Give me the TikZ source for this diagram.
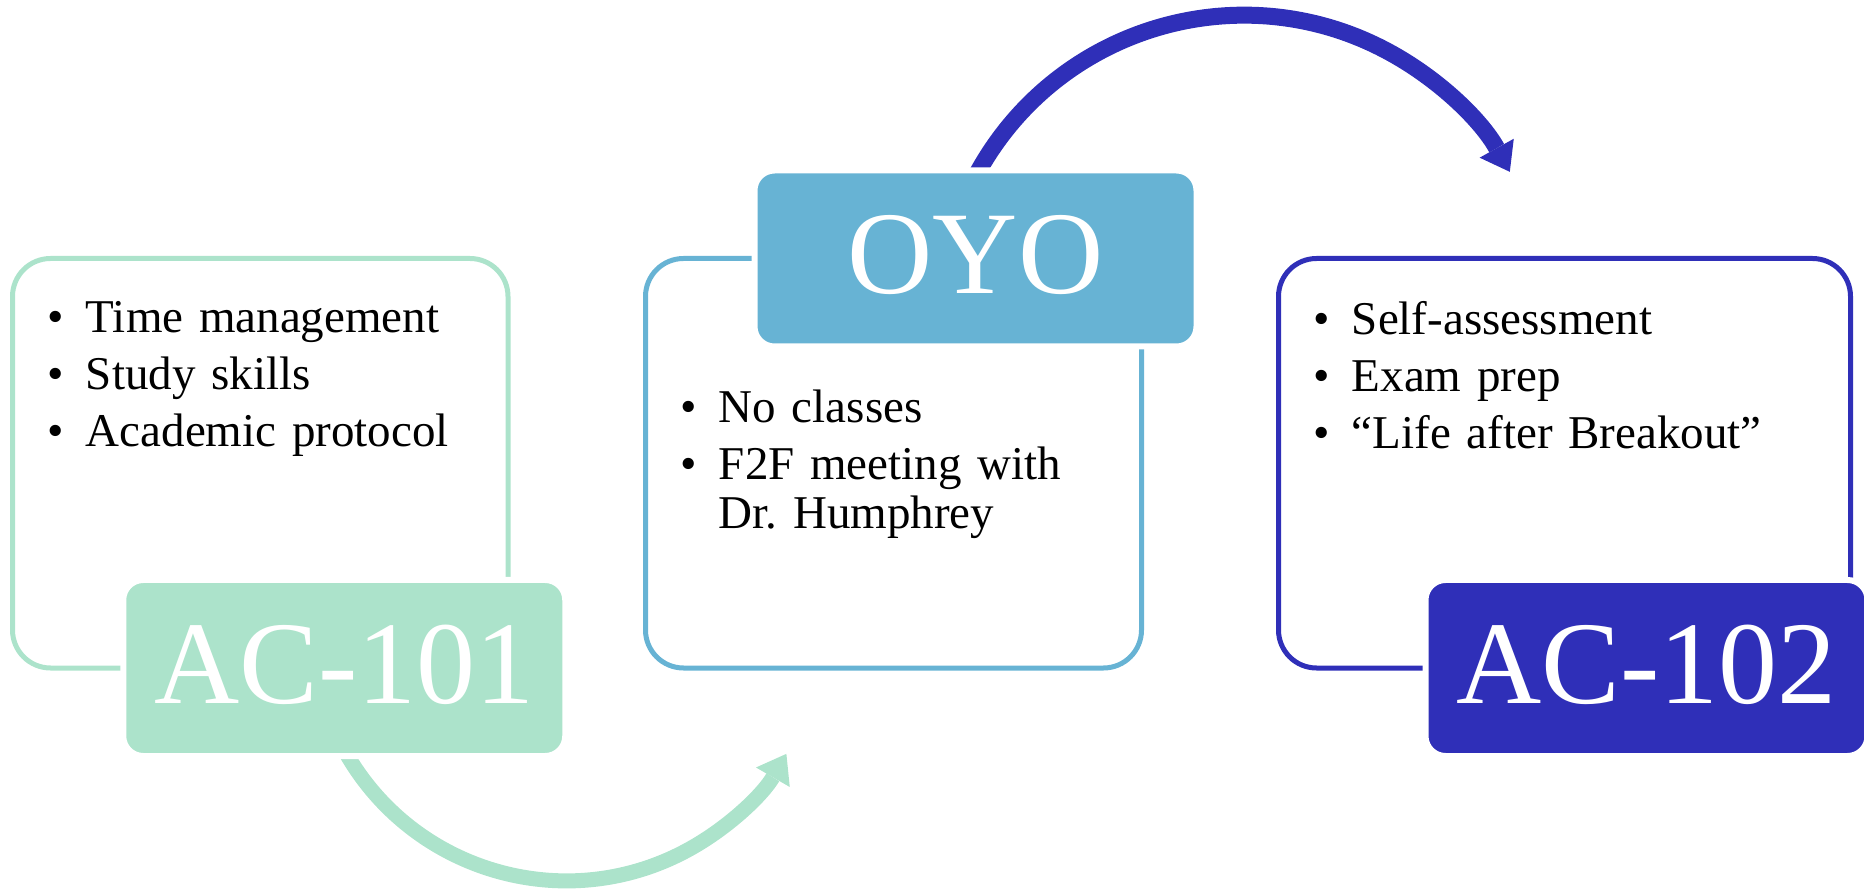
\documentclass[tikz,border=0pt]{standalone}
\usepackage{fontspec}
\setmainfont{Liberation Serif}
\usetikzlibrary{positioning,arrows.meta,backgrounds}
\frenchspacing

\definecolor{mint}{HTML}{ACE3CB}
\definecolor{sky}{HTML}{67B3D4}
\definecolor{indigo}{HTML}{2F2FB8}

% bullet with hanging space
\newcommand{\blt}{\makebox[19pt][l]{\textbullet}}

\tikzset{
  panel/.style={draw=#1, line width=2.5pt, rounded corners=19pt,
    minimum height=204.75pt, outer sep=0pt},
  badge/.style={fill=#1, draw=white, line width=3pt, rounded corners=10pt,
    minimum width=221pt, minimum height=88pt, inner sep=0pt, outer sep=0pt,
    text=white, text depth=4pt, font=\fontsize{59}{59}\selectfont},
  bullets/.style={inner sep=0pt, text width=240pt, align=left,
    font=\fontsize{23.5}{24.5}\selectfont},
  loop arrow/.style={draw=#1, line width=7.5pt,
    -{Triangle[width=19.5pt, length=13.5pt, line width=0pt]}}
}

\begin{document}
\begin{tikzpicture}[x=0.5pt, y=0.5pt]

\useasboundingbox (0,0) rectangle (1864,890);

% Content panels
\node[panel=mint, minimum width=247.75pt] (box1) at (260.25,426.75) {};
\node[panel=sky, minimum width=248pt] (box2) at (893.5,426.75) {};
\node[panel=indigo, minimum width=286pt] (box3) at (1564.5,426.75) {};

% Title badges, sitting on the panel edges
\node[badge=mint] (ac101) at ([xshift=42pt]box1.south) {AC-101};
\node[badge=sky] (oyo) at ([xshift=41pt]box2.north) {OYO};
\node[badge=indigo] (ac102) at ([xshift=41pt]box3.south) {AC-102};

% Bullet lists
\node[bullets, below right=21.25pt and 17.5pt of box1.north west] (list1)
  {\blt Time management\\[4pt]\blt Study skills\\[4pt]\blt Academic protocol};
\node[bullets, below right=65.25pt and 17.5pt of box2.north west] (list2)
  {\blt No classes\\[4pt]\blt F2F meeting with\\\hspace*{19pt}Dr. Humphrey};
\node[bullets, below right=21.25pt and 17.5pt of box3.north west] (list3)
  {\blt Self-assessment\\[4pt]\blt Exam prep\\[4pt]\blt “Life after Breakout”};

% Curved arrows behind the badges
\begin{pgfonlayer}{background}
\draw[loop arrow=mint] ([yshift=3pt]ac101.south)
  arc[start angle=-151, end angle=-30, radius=254];
\draw[loop arrow=indigo, line width=8.5pt] ([yshift=-3pt]oyo.north)
  arc[start angle=152, end angle=29, radius=304];
\end{pgfonlayer}

\end{tikzpicture}
\end{document}
